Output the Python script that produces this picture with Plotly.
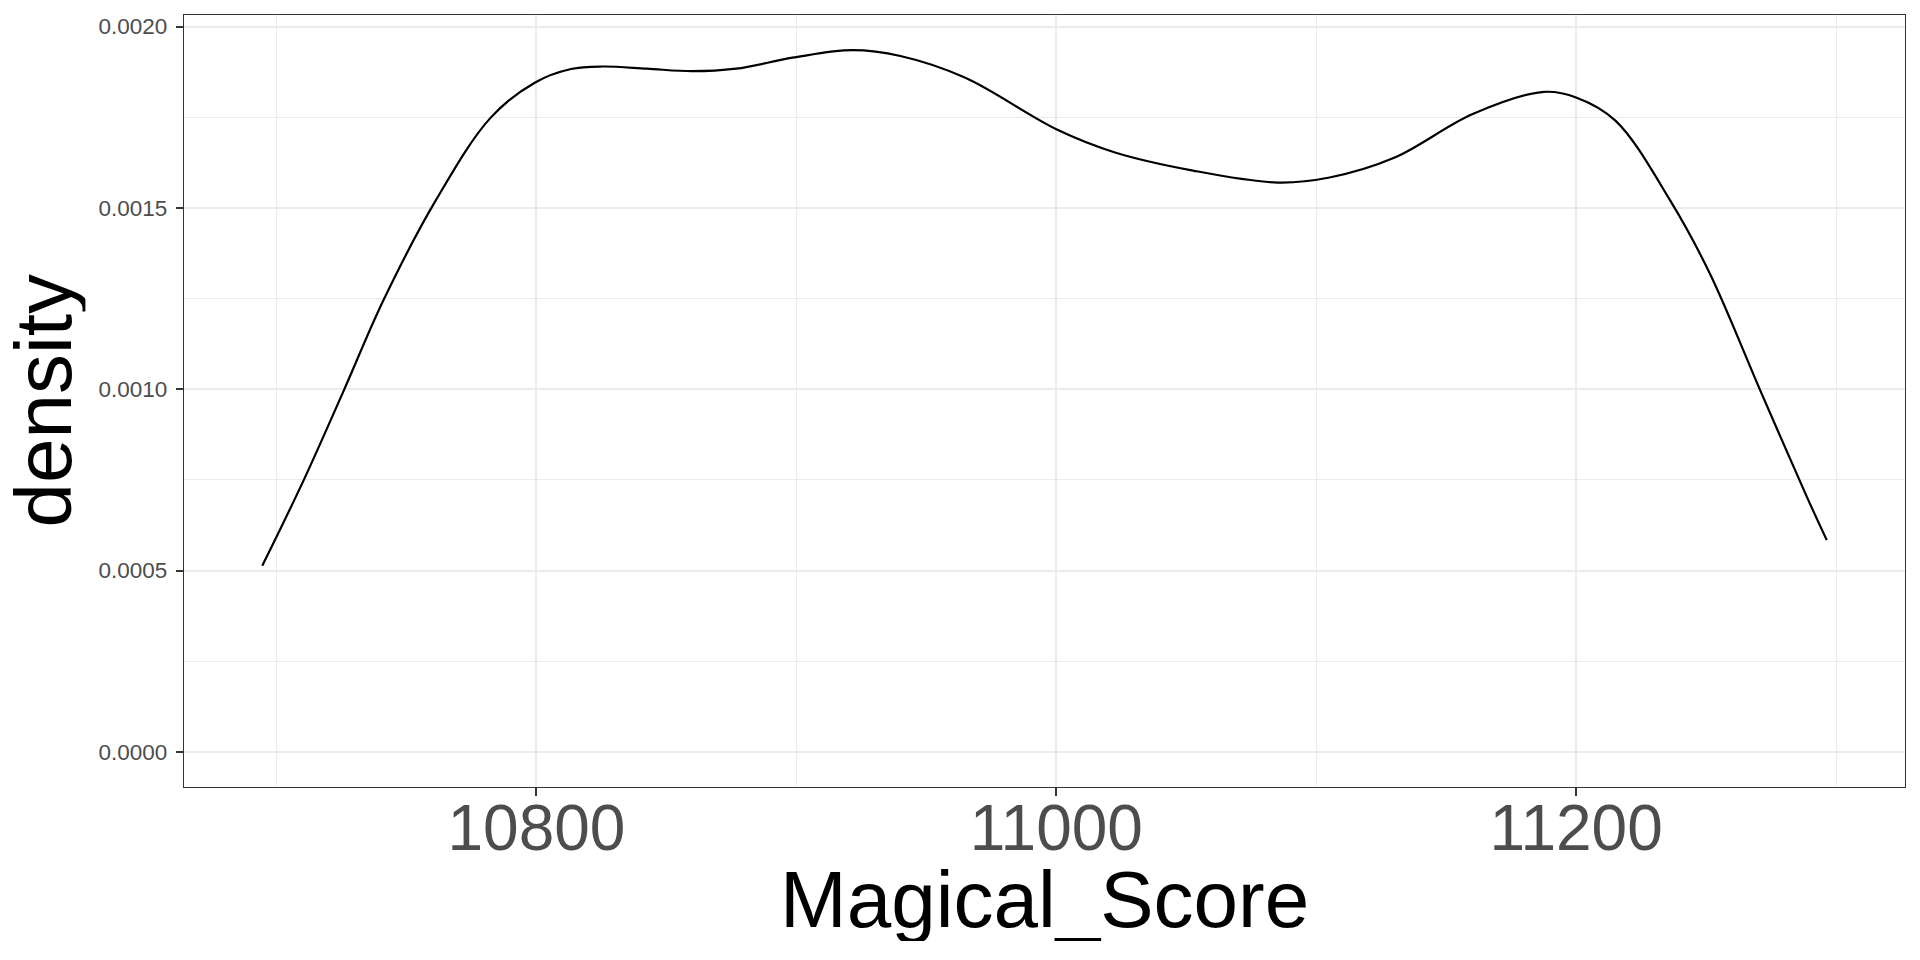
import plotly.graph_objects as go

# density curve
magical_score = [10694.5, 10710.5, 10725.9, 10741.3, 10761.2, 10782.4, 10799.5,
                 10813.3, 10825.3, 10842.5, 10859.7, 10876.8, 10899.2, 10921.5,
                 10940.0, 10965.0, 11000.0, 11022.6, 11052.6, 11085.1, 11105.1,
                 11130.2, 11160.2, 11187.7, 11200.2, 11215.2, 11236.2, 11251.5,
                 11270.8, 11288.7, 11296.4]
density = [0.000513, 0.000750, 0.000997, 0.001248, 0.001520, 0.001749, 0.001846,
           0.001883, 0.001890, 0.001884, 0.001877, 0.001884, 0.001915, 0.001935,
           0.001919, 0.001859, 0.001717, 0.001653, 0.001603, 0.001570, 0.001584,
           0.001639, 0.001759, 0.001820, 0.001804, 0.001740, 0.001520, 0.001318,
           0.000997, 0.000704, 0.000584]

x_ticks = [10800, 11000, 11200]
x_minor = [10700, 10900, 11100, 11300]
y_ticks = [0.0, 0.0005, 0.0010, 0.0015, 0.0020]
y_minor = [0.00025, 0.00075, 0.00125, 0.00175]

font_family = "Liberation Sans, Arial, Helvetica, sans-serif"
major_grid = "#EBEBEB"
border = "#333333"

fig = go.Figure()
fig.add_trace(
    go.Scatter(x=magical_score,
               y=density,
               mode="lines",
               line=dict(color="black", width=2.2, shape="spline", smoothing=1.0),
               showlegend=False))

# page body has an 8px margin, so the figure is a bit smaller than the window
fig.update_layout(
    width=1904,
    height=944,
    margin=dict(l=176, r=7, t=7, b=165, autoexpand=False),
    paper_bgcolor="white",
    plot_bgcolor="white",
    font=dict(family=font_family, color="black"))

fig.update_xaxes(
    range=[10664.4, 11326.5],
    automargin=False,
    tickvals=x_ticks,
    ticktext=[str(v) for v in x_ticks],
    tickfont=dict(size=64, color="#4D4D4D"),
    ticklabelstandoff=-23,
    ticks="outside",
    ticklen=8,
    tickwidth=2,
    tickcolor=border,
    showgrid=True,
    gridcolor=major_grid,
    gridwidth=2,
    minor=dict(tickvals=x_minor, showgrid=True,
               gridcolor=major_grid, gridwidth=1, ticks=""),
    showline=True,
    linecolor=border,
    linewidth=1.3,
    mirror=True,
    zeroline=False)

fig.update_yaxes(
    range=[-0.0000968, 0.002032],
    automargin=False,
    tickvals=y_ticks,
    ticktext=["%.4f" % v for v in y_ticks],
    tickfont=dict(size=22.5, color="#4D4D4D"),
    ticklabelstandoff=4,
    ticks="outside",
    ticklen=7,
    tickwidth=2,
    tickcolor=border,
    showgrid=True,
    gridcolor=major_grid,
    gridwidth=2,
    minor=dict(tickvals=y_minor, showgrid=True,
               gridcolor=major_grid, gridwidth=1, ticks=""),
    showline=True,
    linecolor=border,
    linewidth=1.3,
    mirror=True,
    zeroline=False)

# axis titles
fig.add_annotation(text="Magical_Score", xref="paper", yref="paper",
                   x=0.5, y=-0.1455, xanchor="center", yanchor="middle",
                   height=84, showarrow=False,
                   font=dict(size=80, color="black"))
fig.add_annotation(text="density", xref="paper", yref="paper",
                   x=-0.0817, y=0.5, xanchor="center", yanchor="middle",
                   height=84, textangle=-90, showarrow=False,
                   font=dict(size=80, color="black"))

fig.write_html("out.html")
